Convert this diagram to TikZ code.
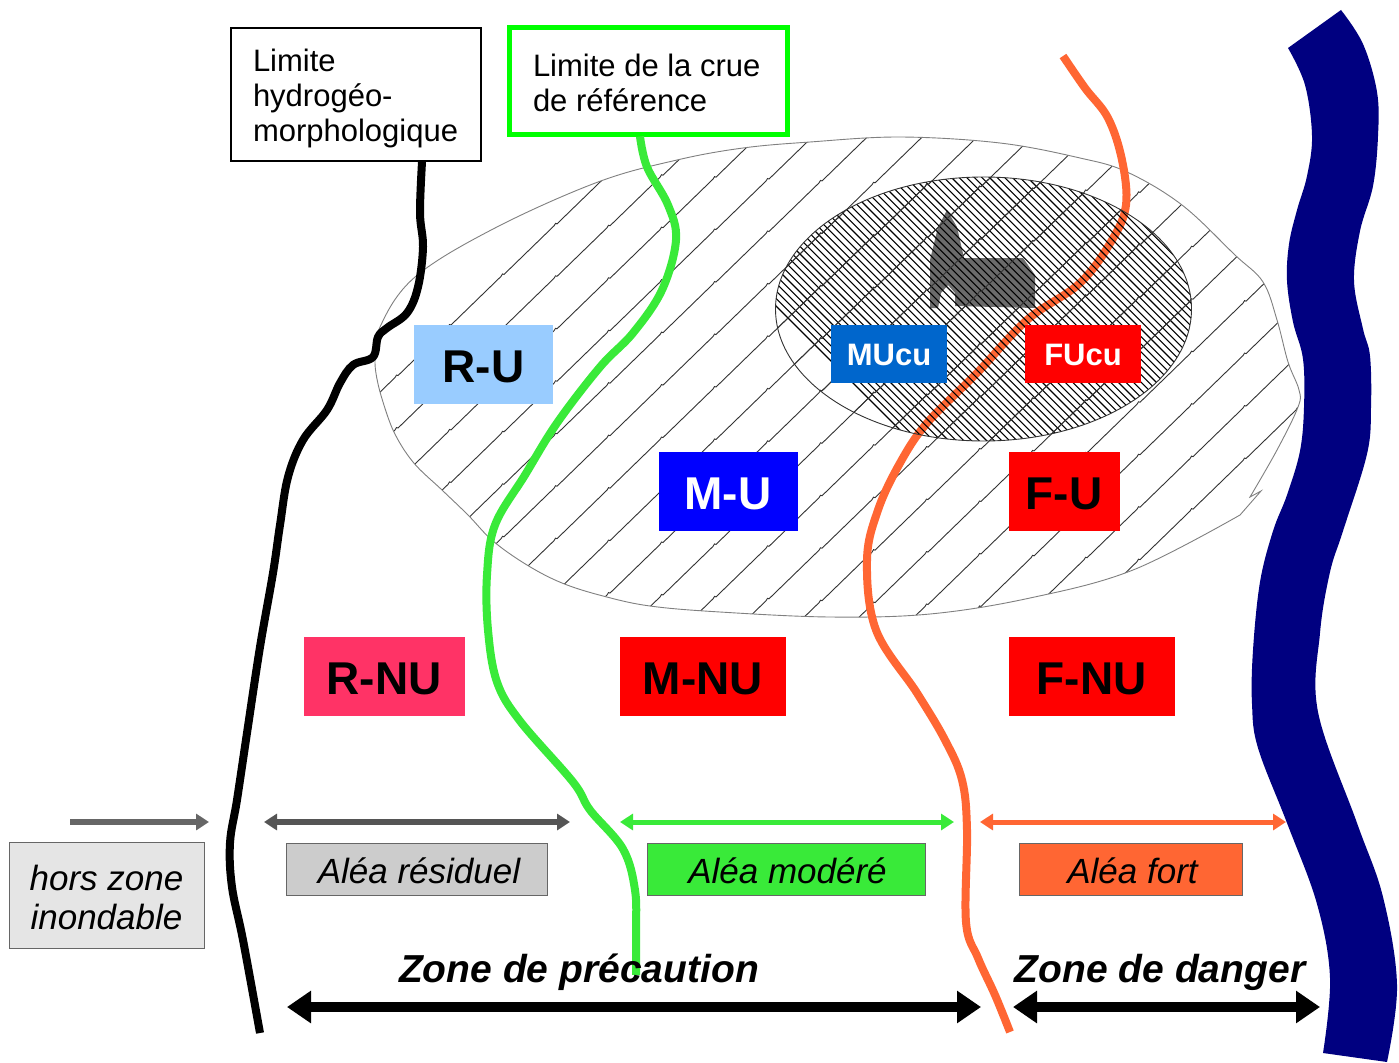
\documentclass[tikz,border=0pt]{standalone}
\usepackage{fontspec}
\setmainfont{Liberation Sans}
\usetikzlibrary{arrows.meta}
\definecolor{riv}{HTML}{000080}
\definecolor{grn}{HTML}{39EA39}
\definecolor{org}{HTML}{FF6633}
\definecolor{dkg}{HTML}{555555}
\tikzset{
 code/.style={inner sep=0pt,font=\fontsize{46}{46}\selectfont\bfseries,text=black,text height=37pt,text depth=0pt},
 smallcode/.style={inner sep=0pt,font=\fontsize{31}{31}\selectfont\bfseries,text=white,text height=22pt,text depth=0pt},
 alea/.style={draw=black!60,line width=0.9pt,inner sep=0pt,font=\fontsize{35}{35}\selectfont\itshape,text height=29pt,text depth=0pt},
 limit/.style={line width=8pt,line cap=butt,line join=round},
 dbl/.style={line width=#1,{Triangle[width=16pt,length=13pt]}-{Triangle[width=16pt,length=13pt]}},
 big/.style={line width=10pt,{Triangle[width=31pt,length=24pt]}-{Triangle[width=31pt,length=24pt]}},
 hatch/.style={line width=0.9pt,black!80},
 lab/.style={font=\fontsize{31}{35}\selectfont,align=flush left,fill=white,inner ysep=0pt},
}
\newcommand\bighatch{%
 \foreach \k in {0,...,20}{
  \pgfmathsetmacro\xo{57+55*\k}
  \draw[hatch] (-29,{700+.954*(\xo+29)})
   \foreach \n in {0,...,27}{ -- ({-29+53*\n},{700-.954*(-29+53*\n-\xo)}) -- ++(1.5,-2.5) -- ++(1.5,0.5) };
 }}
\begin{document}
\begin{tikzpicture}[x=1pt,y=-1pt]
\useasboundingbox[fill=white] (0,0) rectangle (1399,1062);
% river
\fill[riv] plot[smooth,tension=0.6] coordinates {(1288,48)(1305,85)(1312,136)(1307,176)(1297,210)(1289,244)(1287,281)(1293,322)(1303,359)(1304,407)(1300,451)(1287,495)(1273,531)(1260,582)(1253,650)(1252,704)(1258,748)(1287,823)(1317,904)(1330,978)(1323,1053)}
 -- plot[smooth,tension=0.6] coordinates {(1387,1062)(1397,985)(1383,897)(1357,823)(1318,712)(1320,633)(1330,572)(1343,531)(1367,454)(1371,407)(1370,356)(1363,329)(1354,281)(1360,231)(1373,186)(1378,136)(1377,92)(1363,44)(1341,10)} -- cycle;
% large hatched zone
\def\blob{plot[smooth,tension=0.6] coordinates {(380,392)(375,363)(380,327)(415,277)(495,228)(598,182)(677,160)(743,148)(810,142)(900,137)(1000,143)(1080,158)(1127,172)(1182,205)(1235,255)(1263,282)(1277,320)(1288,362)(1299,390)(1298,407)(1277,450)(1250,497)} -- (1261,491) -- plot[smooth,tension=0.6] coordinates {(1240,515)(1133,570)(1030,598)(930,614)(830,617)(720,612)(650,606)(603,596)(562,583)(527,565)(493,541)(468,515)(442,490)(413,462)(393,430)(380,392)}}
\begin{scope}
 \clip \blob;
 \bighatch
\end{scope}
\draw[black!50,line width=0.9pt] \blob;
% church
\fill[black!58] (947,210) -- (957,227) -- (964,258) -- (1023,258) -- (1035,275) -- (1035,308) -- (955,306) -- (955,293) -- (948,285) -- (941,293) -- (938,308) -- (930,308) -- (930,260) -- (938,227) -- cycle;
% orange limit
\coordinate (oS) at (1063,56);
\coordinate (oE) at (1010,1032);
\draw[limit,org] plot[smooth,tension=0.6] coordinates {(oS)(1085,88)(1108,118)(1122,160)(1126,205)(1112,240)(1080,283)(1027,320)(977,373)(927,423)(900,463)(878,510)(867,560)(876,630)(917,693)(945,740)(962,780)(967,830)(966,922)(978,958)(995,995)(oE)};
% fine hatched ellipse
\begin{scope}
 \clip (983.5,309) ellipse [x radius=208,y radius=132];
 \foreach \k in {0,...,62}{
  \draw[black,line width=1.1pt] ({640+7.6*\k},170) -- ++(290,290);
 }
 \bighatch
\end{scope}
\draw[black!80,line width=0.9pt] (983.5,309) ellipse [x radius=208,y radius=132];
% text boxes with limits
\node[lab,draw=black,line width=2pt,minimum height=133pt,inner xsep=22pt,text width=206pt] (lim) at (356,94.5) {\rule{0pt}{30.6pt}Limite\\hydrogéo-\\morphologique};
\node[lab,draw={rgb,255:red,0;green,255;blue,0},line width=5pt,minimum height=106pt,inner xsep=19pt,text width=240pt] (crue) at (648,81) {\hspace*{5pt}\rule{0pt}{26.6pt}Limite de la crue\\\hspace*{5pt}de référence};
% black & green limits
\coordinate (kE) at (260,1033);
\coordinate (gE) at (636,975);
\draw[limit,black] plot[smooth,tension=0.6] coordinates {(lim.south -| 422,160)(420,213)(423,247)(418,287)(407,313)(387,328)(378,337)(373,357)(353,365)(340,383)(327,410)(303,440)(288,477)(280,525)(273,573)(260,647)(247,733)(237,800)(230,843)(232,887)(243,940)(kE)};
\draw[limit,grn] plot[smooth,tension=0.6] coordinates {(crue.south -| 640,134)(647,167)(668,205)(676,240)(662,290)(633,333)(600,367)(557,423)(525,475)(495,525)(487,575)(488,630)(497,682)(520,721)(573,782)(590,810)(623,849)(635,890)(636,931)(gE)};
% code labels
\node[code,fill={rgb,255:red,153;green,204;blue,255},minimum width=139pt,minimum height=79pt] (ru) at (483.5,364) {R-U};
\node[code,fill={rgb,255:red,0;green,0;blue,255},text=white,minimum width=139pt,minimum height=79pt] (mu) at (728,491) {M-U};
\node[code,fill=red,minimum width=111pt,minimum height=79pt] (fu) at (1064,491) {F-U};
\node[code,fill={rgb,255:red,255;green,51;blue,102},minimum width=161pt,minimum height=79pt] (rnu) at (384,676) {R-NU};
\node[code,fill=red,minimum width=166pt,minimum height=79pt] (mnu) at (703,676) {M-NU};
\node[code,fill=red,minimum width=166pt,minimum height=79pt] (fnu) at (1091.5,676) {F-NU};
\node[smallcode,fill={rgb,255:red,0;green,102;blue,204},minimum width=116pt,minimum height=58pt] (mucu) at (889,354) {MUcu};
\node[smallcode,fill=red,minimum width=116pt,minimum height=58pt] (fucu) at (1083,354) {FUcu};
% hazard labels
\node[draw=black!60,line width=0.9pt,inner sep=0pt,font=\fontsize{35}{39}\selectfont\itshape,align=flush center,fill=black!10,minimum width=195pt,minimum height=106pt] (hz) at (106.5,895.5) {\rule{0pt}{29.5pt}hors zone\\inondable};
\node[alea,fill=black!20,minimum width=261pt,minimum height=52pt] (res) at (417,869) {\kern4pt Aléa résiduel};
\node[alea,fill=grn,minimum width=278pt,minimum height=52pt] (mod) at (786.5,869) {\kern2pt Aléa modéré};
\node[alea,fill=org,minimum width=223pt,minimum height=52pt] (frt) at (1130.5,869) {\kern4pt Aléa fort};
% small arrows
\coordinate (a0) at (70,822); \coordinate (a1) at (209,822);
\coordinate (b0) at (264,822); \coordinate (b1) at (570,822);
\coordinate (c0) at (620,822); \coordinate (c1) at (954,822);
\coordinate (d0) at (980,822); \coordinate (d1) at (1286,822);
\draw[line width=5.5pt,black!60,-{Triangle[width=16pt,length=13pt]}] (a0) -- (a1);
\draw[dbl=5.5pt,dkg] (b0) -- (b1);
\draw[dbl=5pt,grn] (c0) -- (c1);
\draw[dbl=5pt,org] (d0) -- (d1);
% zones
\coordinate (e0) at (287,1007); \coordinate (e1) at (981,1007);
\coordinate (f0) at (1013,1007); \coordinate (f1) at (1320,1007);
\draw[big] (e0) -- (e1);
\draw[big] (f0) -- (f1);
\node[inner sep=0pt,font=\fontsize{39}{39}\selectfont\bfseries\itshape] (zp) at (579,972) {Zone de précaution};
\node[inner sep=0pt,font=\fontsize{39}{39}\selectfont\bfseries\itshape] (zd) at (1160,972) {Zone de danger};
\end{tikzpicture}
\end{document}
